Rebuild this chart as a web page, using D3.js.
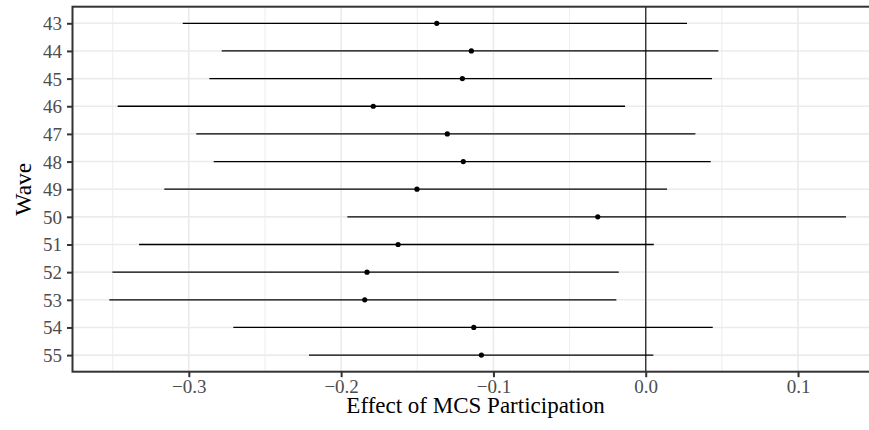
<!DOCTYPE html>
<html>
<head>
<meta charset="utf-8">
<script src="https://cdn.jsdelivr.net/npm/d3@7"></script>
<style>
  html, body { margin: 0; padding: 0; background: #fff; }
  svg { display: block; }
  svg text { font-family: "Liberation Serif", "DejaVu Serif", serif; }
</style>
</head>
<body>
<svg id="chart" width="869" height="430"></svg>
<script>
const waves = ["43","44","45","46","47","48","49","50","51","52","53","54","55"];
const estimates = [-0.1372,-0.1145,-0.1204,-0.1789,-0.1303,-0.1198,-0.1502,-0.0315,-0.1626,-0.1830,-0.1845,-0.1129,-0.1079];
const lowers = [-0.3040,-0.2784,-0.2865,-0.3467,-0.2951,-0.2837,-0.3161,-0.1959,-0.3327,-0.3502,-0.3522,-0.2708,-0.2211];
const uppers = [0.0271,0.0477,0.0435,-0.0136,0.0326,0.0427,0.0140,0.1315,0.0053,-0.0177,-0.0193,0.0440,0.0050];
const xTicks = [-0.3,-0.2,-0.1,0.0,0.1];
const xMinor = [-0.35,-0.25,-0.15,-0.05,0.05,0.15];
const xTitle = "Effect of MCS Participation";
const yTitle = "Wave";

const FONT = '"Liberation Serif", "DejaVu Serif", serif';
const svg = d3.select("#chart");
const panel = {left: 72.5, top: 6.7, bottom: 371.7};

const lo = d3.min(lowers), hi = d3.max(uppers);
const pad = (hi - lo) * 0.05;
const x = d3.scaleLinear().domain([lo - pad, hi + pad]).range([72.5, 72.5 + (hi - lo + 2*pad) * 1523]);
const y = d3.scalePoint().domain(waves).range([panel.top, panel.bottom]).padding(0.6);
const right = x.range()[1];

const g = svg.append("g");
g.append("rect").attr("x", panel.left).attr("y", panel.top)
  .attr("width", right - panel.left).attr("height", panel.bottom - panel.top).attr("fill", "#fff");

// grid
g.selectAll(".minor").data(xMinor).join("line")
  .attr("x1", d => x(d)).attr("x2", d => x(d)).attr("y1", panel.top).attr("y2", panel.bottom)
  .attr("stroke", "#EBEBEB").attr("stroke-width", 0.9);
g.selectAll(".majorx").data(xTicks).join("line")
  .attr("x1", d => x(d)).attr("x2", d => x(d)).attr("y1", panel.top).attr("y2", panel.bottom)
  .attr("stroke", "#EBEBEB").attr("stroke-width", 1.6);
g.selectAll(".majory").data(waves).join("line")
  .attr("x1", panel.left).attr("x2", right).attr("y1", d => y(d)).attr("y2", d => y(d))
  .attr("stroke", "#EBEBEB").attr("stroke-width", 1.6);

// zero line
g.append("line").attr("x1", x(0)).attr("x2", x(0)).attr("y1", panel.top).attr("y2", panel.bottom)
  .attr("stroke", "#333").attr("stroke-width", 1.4);

// error bars
g.selectAll(".err").data(waves).join("line")
  .attr("x1", (d,i) => x(lowers[i])).attr("x2", (d,i) => x(uppers[i]))
  .attr("y1", d => y(d)).attr("y2", d => y(d))
  .attr("stroke", "#000").attr("stroke-width", 1.3);
g.selectAll(".pt").data(waves).join("circle")
  .attr("cx", (d,i) => x(estimates[i])).attr("cy", d => y(d)).attr("r", 2.6).attr("fill", "#000");

// border
g.append("rect").attr("x", panel.left).attr("y", panel.top)
  .attr("width", right - panel.left).attr("height", panel.bottom - panel.top)
  .attr("fill", "none").attr("stroke", "#333").attr("stroke-width", 2);

// axes
const xAxis = g.append("g").attr("transform", `translate(0,${panel.bottom})`)
  .call(d3.axisBottom(x).tickValues(xTicks).tickSize(5.5).tickPadding(3)
    .tickFormat(d => d === 0 ? "0.0" : d3.format(".1f")(d)));
xAxis.attr("font-family", null).attr("font-size", null);
xAxis.select(".domain").remove();
xAxis.selectAll("line").attr("stroke", "#333").attr("stroke-width", 2);
xAxis.selectAll("text").style("font-family", FONT).style("font-size", "19px").attr("fill", "#4D4D4D").attr("dy", "0.7em");

const yAxis = g.append("g").attr("transform", `translate(${panel.left},0)`)
  .call(d3.axisLeft(y).tickSize(5.5).tickPadding(5));
yAxis.attr("font-family", null).attr("font-size", null);
yAxis.select(".domain").remove();
yAxis.selectAll("line").attr("stroke", "#333").attr("stroke-width", 2);
yAxis.selectAll("text").style("font-family", FONT).style("font-size", "19px").attr("fill", "#4D4D4D").attr("dy", "0.34em");

svg.append("text").attr("x", 475.5).attr("y", 413)
  .attr("text-anchor", "middle").style("font-family", FONT).style("font-size", "23px")
  .attr("fill", "#000").text(xTitle);
svg.append("text").attr("transform", `translate(31,${(panel.top + panel.bottom)/2}) rotate(-90)`)
  .attr("text-anchor", "middle").style("font-family", FONT).style("font-size", "23.5px")
  .attr("fill", "#000").text(yTitle);
</script>
</body>
</html>
